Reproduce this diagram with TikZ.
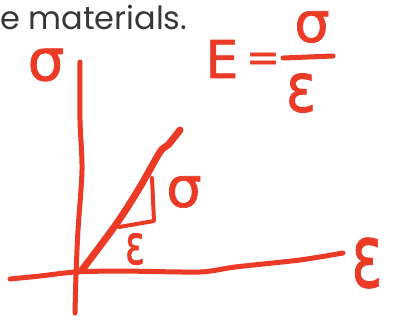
\documentclass[tikz,border=0pt]{standalone}
\usepackage{graphicx}
\usepackage{fontspec}
\setmainfont{DejaVu Sans}
\newfontfamily\inkfont[FakeBold=1.2]{DejaVu Sans}
\newfontfamily\bookfont{Poppins}
\definecolor{inkred}{RGB}{235,58,38}
\definecolor{printgray}{RGB}{55,55,55}
\tikzset{
  pen/.style={inkred, line width=5pt, line cap=round, line join=round},
  inklabel/.style={inkred, inner sep=0pt, outer sep=0pt, font=\inkfont}
}
\begin{document}
\begin{tikzpicture}[x=1pt, y=-1pt]
        \useasboundingbox (0,0) rectangle (393,326);

        % Кусок текста из книги сверху
        \node[printgray, anchor=base west, inner sep=0pt] (book) at (0,30)
            {\bookfont\fontsize{32}{36}\selectfont e materials.};

        % Оси: sigma вверх, epsilon вправо
        \draw[pen] plot[smooth] coordinates {(80,62) (80,120) (82,170) (78,230) (76,275) (75,313)};
        \draw[pen] plot[smooth, tension=0.4] coordinates {(10,279) (40,276) (75,272) (120,271) (200,272) (235,267) (300,260) (343,253)};

        % Прямая E = sigma / epsilon
        \draw[pen, line width=7pt] plot[smooth] coordinates {(82,270) (117,223) (140,187) (160,152) (168,145) (180,130)};

        % Треугольник наклона
        \draw[pen, line width=4pt] (152,178) -- (154,221) -- (119,227);

        % Подписи осей
        \node[inklabel] (sigmaaxis) at (46,65) {\fontsize{58}{58}\selectfont σ};
        \node[inklabel] (epsaxis) at (367,263) {\scalebox{0.72}[1.1]{\fontsize{80}{80}\selectfont ε}};

        % Подписи у треугольника
        \node[inklabel] (sigmastep) at (184,192) {\fontsize{56}{56}\selectfont σ};
        \node[inklabel] (epsstep) at (135,249) {\scalebox{0.8}[1.2]{\fontsize{46}{46}\selectfont ε}};

        % Формула E = sigma / epsilon
        \node[inklabel] (modulus) at (222,59) {\fontsize{52}{52}\selectfont E};
        \node[inklabel] (equals) at (263,62) {\fontsize{40}{40}\selectfont =};
        \node[inklabel] (fracnum) at (312,27) {\fontsize{56}{56}\selectfont σ};
        \node[inklabel] (fracden) at (301,93) {\scalebox{0.9}[1.1]{\fontsize{62}{62}\selectfont ε}};
        \draw[pen] (283,58) -- (333,56);

    \end{tikzpicture}
\end{document}
